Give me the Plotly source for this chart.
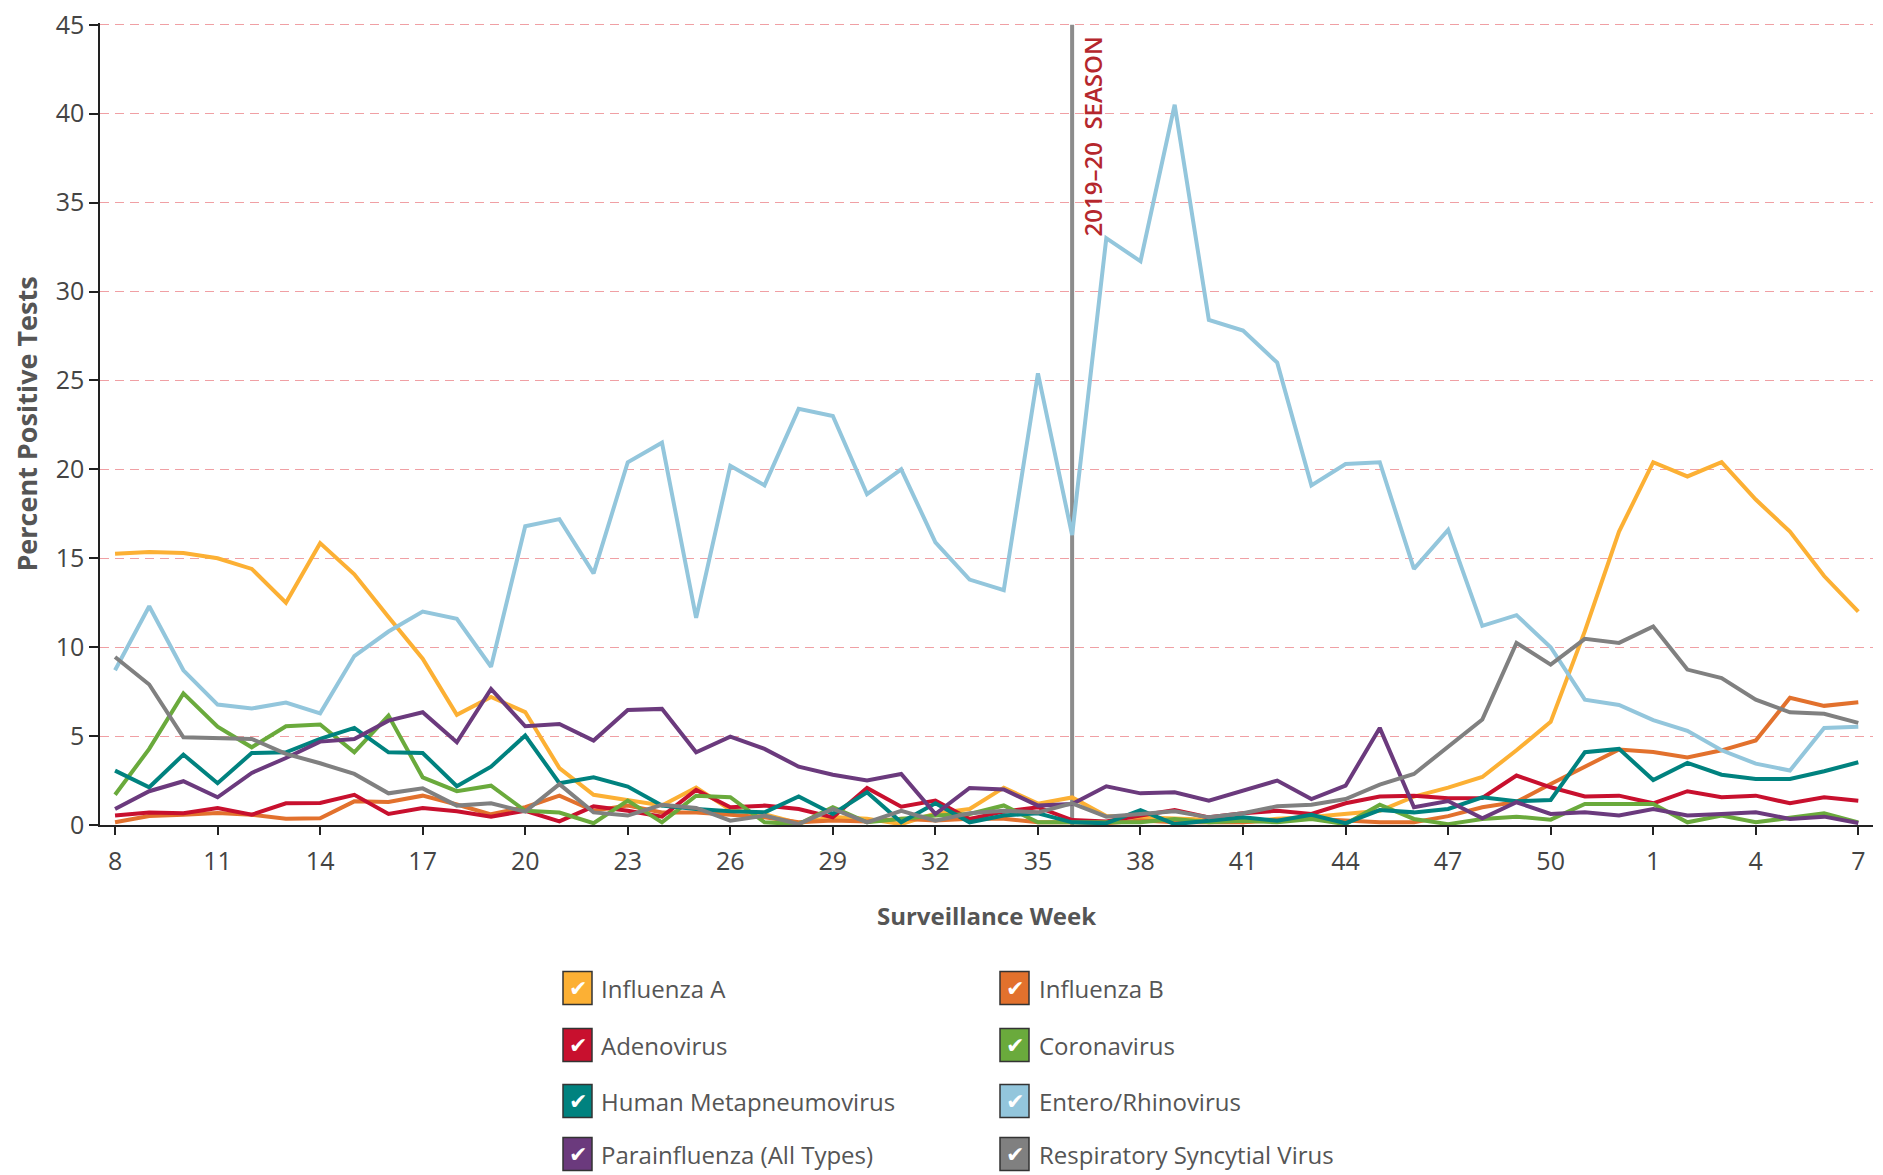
import plotly.graph_objects as go

weeks = [str(w) for w in list(range(8, 53)) + list(range(1, 8))]

influenza_a = [15.25, 15.35, 15.3, 15.0, 14.4, 12.5, 15.85, 14.1, 11.7, 9.35, 6.2, 7.2, 6.35, 3.2, 1.7, 1.4, 1.1, 2.1,
               0.85, 0.6, 0.1, 0.45, 0.35, 0.05, 0.65, 0.9, 2.1, 1.2, 1.55, 0.5, 0.45, 0.35, 0.3, 0.15, 0.35, 0.45,
               0.6, 0.8, 1.6, 2.1, 2.7, 4.2, 5.8, 10.9, 16.5, 20.4, 19.6, 20.4, 18.3, 16.5, 14.0, 12.0]
influenza_b = [0.15, 0.5, 0.58, 0.68, 0.58, 0.35, 0.38, 1.33, 1.3, 1.65, 1.15, 0.6, 1.0, 1.65, 0.8, 1.1, 0.7, 0.7,
               0.58, 0.43, 0.15, 0.25, 0.2, 0.35, 0.25, 0.35, 0.35, 0.15, 0.15, 0.1, 0.25, 0.15, 0.15, 0.15, 0.28, 0.35,
               0.25, 0.15, 0.15, 0.5, 1.0, 1.3, 2.3, 3.25, 4.25, 4.1, 3.8, 4.2, 4.75, 7.15, 6.7, 6.9]
adenovirus = [0.53, 0.7, 0.66, 0.96, 0.58, 1.22, 1.24, 1.7, 0.62, 0.96, 0.77, 0.47, 0.8, 0.2, 1.05, 0.8, 0.47, 1.97,
              1.0, 1.09, 0.9, 0.43, 2.08, 1.03, 1.37, 0.34, 0.75, 1.0, 0.28, 0.2, 0.53, 0.84, 0.43, 0.66, 0.8, 0.62,
              1.22, 1.6, 1.65, 1.5, 1.52, 2.78, 2.12, 1.6, 1.65, 1.22, 1.9, 1.56, 1.65, 1.22, 1.56, 1.37]
coronavirus = [1.7, 4.28, 7.4, 5.53, 4.37, 5.55, 5.65, 4.09, 6.15, 2.68, 1.9, 2.21, 0.8, 0.7, 0.1, 1.37, 0.15, 1.65,
               1.56, 0.15, 0.05, 1.0, 0.15, 0.35, 0.53, 0.62, 1.1, 0.15, 0.15, 0.1, 0.15, 0.34, 0.15, 0.24, 0.15, 0.34,
               0.05, 1.14, 0.34, 0.05, 0.34, 0.47, 0.3, 1.18, 1.18, 1.18, 0.15, 0.53, 0.15, 0.43, 0.66, 0.15]
hmpv = [3.06, 2.12, 3.96, 2.35, 4.05, 4.09, 4.84, 5.46, 4.09, 4.05, 2.18, 3.28, 5.03, 2.35, 2.68, 2.16, 1.09, 0.9,
        0.77, 0.71, 1.6, 0.62, 1.84, 0.15, 1.22, 0.15, 0.53, 0.66, 0.15, 0.1, 0.84, 0.05, 0.24, 0.43, 0.24, 0.58,
        0.1, 0.84, 0.71, 0.9, 1.56, 1.33, 1.41, 4.09, 4.28, 2.53, 3.49, 2.83, 2.59, 2.59, 3.02, 3.53]
entero_rhino = [8.7, 12.3, 8.7, 6.77, 6.55, 6.88, 6.28, 9.5, 10.88, 12.0, 11.6, 8.9, 16.8, 17.2, 14.15, 20.4, 21.5,
                11.65, 20.2, 19.1, 23.4, 23.0, 18.6, 20.0, 15.9, 13.8, 13.2, 25.4, 16.3, 33.0, 31.7, 40.5, 28.4, 27.8,
                26.0, 19.1, 20.3, 20.4, 14.4, 16.6, 11.2, 11.8, 10.0, 7.05, 6.75, 5.9, 5.3, 4.2, 3.45, 3.06, 5.46, 5.53]
parainfluenza = [0.9, 1.9, 2.46, 1.56, 2.93, 3.77, 4.69, 4.84, 5.87, 6.34, 4.65, 7.65, 5.55, 5.68, 4.75, 6.47, 6.53,
                 4.09, 4.97, 4.28, 3.28, 2.83, 2.5, 2.87, 0.62, 2.08, 2.0, 1.09, 1.18, 2.18, 1.78, 1.84, 1.37, 1.93,
                 2.5, 1.46, 2.21, 5.46, 1.0, 1.35, 0.38, 1.28, 0.62, 0.71, 0.53, 0.9, 0.53, 0.62, 0.71, 0.34, 0.47, 0.11]
rsv = [9.45, 7.9, 4.93, 4.88, 4.84, 4.0, 3.47, 2.87, 1.78, 2.06, 1.09, 1.22, 0.75, 2.3, 0.71, 0.53, 1.14, 0.96,
       0.24, 0.53, 0.05, 0.9, 0.15, 0.8, 0.24, 0.66, 0.8, 0.71, 1.22, 0.47, 0.62, 0.77, 0.43, 0.66, 1.05, 1.14,
       1.46, 2.27, 2.87, 4.4, 5.93, 10.24, 9.02, 10.47, 10.24, 11.16, 8.74, 8.26, 7.05, 6.34, 6.25, 5.74]

series_names = ["Influenza A", "Influenza B", "Adenovirus", "Coronavirus", "Human Metapneumovirus",
                "Entero/Rhinovirus", "Parainfluenza (All Types)", "Respiratory Syncytial Virus"]
series_values = [influenza_a, influenza_b, adenovirus, coronavirus, hmpv, entero_rhino, parainfluenza, rsv]
series_colors = ["#fcb034", "#e2712d", "#c8102e", "#6aaa3c", "#00827f", "#93c6dc", "#6b3a7d", "#808080"]

tick_weeks = weeks[::3]
y_ticks = [0, 5, 10, 15, 20, 25, 30, 35, 40, 45]
season_week = "36"
season_label = "2019\u201320  SEASON"
season_idx = weeks.index(season_week)

OFF = 8  # page body margin
W, H = 1883 - OFF, 1175 - OFF
L, R, T, B = 92, 10, 15, 350
PW, PH = W - L - R, H - T - B


def px_x(px):
    return (px - OFF - L) / PW


def px_y(py):
    return (H - B - (py - OFF)) / PH


fig = go.Figure()
for name, vals, col in zip(series_names, series_values, series_colors):
    fig.add_trace(go.Scatter(x=weeks, y=vals, name=name, mode="lines",
                             line=dict(color=col, width=4), showlegend=False))

fig.add_shape(type="line", xref="x", yref="y", x0=season_idx, x1=season_idx, y0=0, y1=45,
              line=dict(color="#8c8c8c", width=4), layer="below")
fig.add_annotation(x=season_idx, y=45, xref="x", yref="y", text=season_label, textangle=-90,
                   showarrow=False, xanchor="left", yanchor="top", xshift=2, yshift=-10,
                   font=dict(family="Open Sans", size=24, color="#b5272d", weight=600))

# custom checkbox legend
cols_px = [(563, 600), (1000, 1038)]
rows_py = [988, 1045, 1101, 1154]
box_w, box_h = 29, 33
for k, (name, col) in enumerate(zip(series_names, series_colors)):
    bx, tx = cols_px[k % 2]
    cy = rows_py[k // 2]
    fig.add_shape(type="rect", xref="paper", yref="paper",
                  x0=px_x(bx), x1=px_x(bx + box_w), y0=px_y(cy + box_h / 2), y1=px_y(cy - box_h / 2),
                  fillcolor=col, line=dict(color="#333333", width=1.5))
    fig.add_annotation(xref="paper", yref="paper", x=px_x(bx + box_w / 2), y=px_y(cy), text="\u2714",
                       showarrow=False, xanchor="center", yanchor="middle",
                       font=dict(family="DejaVu Sans", size=22, color="white"))
    fig.add_annotation(xref="paper", yref="paper", x=px_x(tx), y=px_y(cy), text=name,
                       showarrow=False, xanchor="left", yanchor="middle", borderpad=0,
                       font=dict(family="Open Sans", size=24, color="#555555"))

fig.update_layout(
    width=W, height=H,
    margin=dict(l=L, r=R, t=T, b=B),
    paper_bgcolor="white", plot_bgcolor="white",
    font=dict(family="Open Sans", color="#444444"),
    xaxis=dict(type="category", categoryorder="array", categoryarray=weeks,
               range=[-0.44, 51.43], tickmode="array", tickvals=tick_weeks, ticktext=tick_weeks,
               showgrid=False, showline=True, linecolor="#222222", linewidth=1.5,
               ticks="outside", ticklen=8, tickcolor="#222222", tickwidth=1.5, ticklabelstandoff=5,
               tickfont=dict(size=25, color="#444444"),
               title=dict(text="Surveillance Week", standoff=32,
                          font=dict(size=24, color="#555555", weight="bold"))),
    yaxis=dict(range=[0, 45.1], tickvals=y_ticks, showgrid=True, gridcolor="#f0a0a4", gridwidth=1.2,
               griddash="9px,6px", zeroline=False, showline=True, linecolor="#222222", linewidth=1.5,
               ticks="outside", ticklen=9, tickcolor="#222222", tickwidth=1.5,
               ticklabeloverflow="allow", automargin=False,
               tickfont=dict(size=25, color="#444444"),
               title=dict(text="Percent Positive Tests", standoff=16,
                          font=dict(size=27, color="#555555", weight="bold"))),
)

fig.write_html("out.html")
